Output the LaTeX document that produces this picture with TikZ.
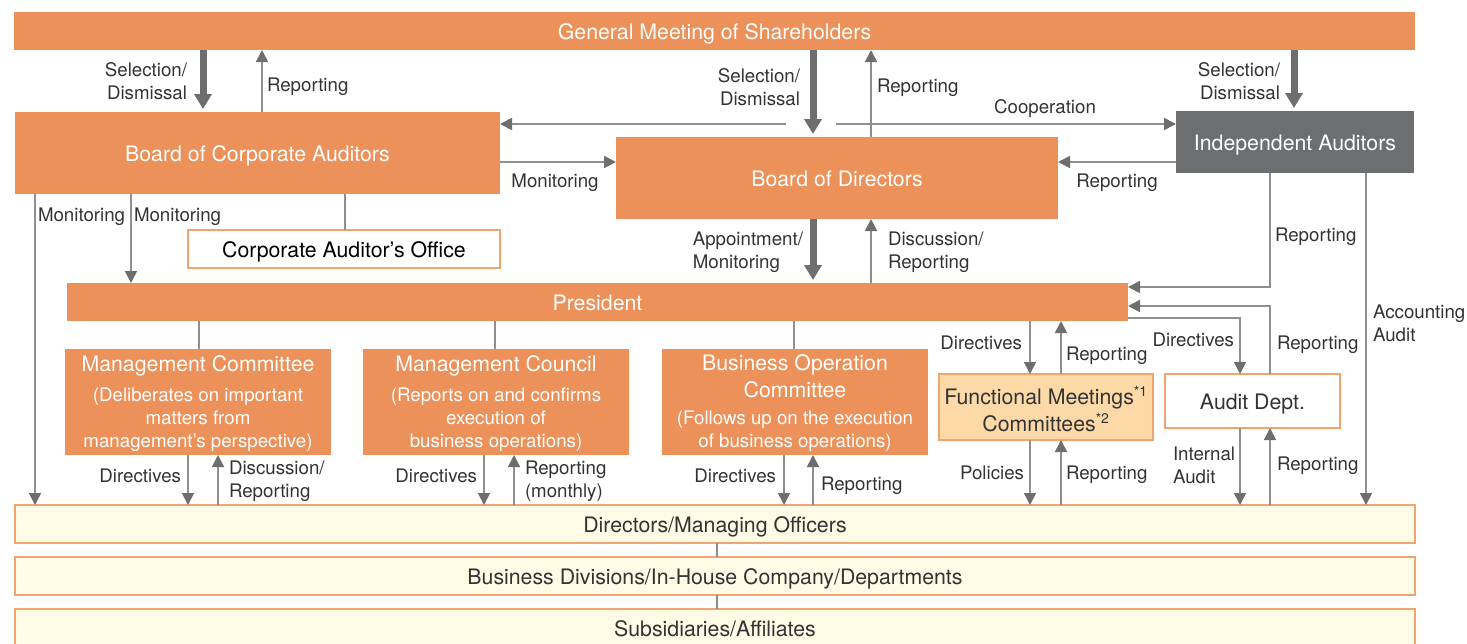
\documentclass[tikz,border=0pt]{standalone}
\usepackage{fontspec}
\setmainfont{TeX Gyre Heros}
\usetikzlibrary{arrows.meta}

\definecolor{corp}{HTML}{EB9159}
\definecolor{iagray}{HTML}{6D6E70}
\definecolor{wire}{HTML}{8F8F8F}
\definecolor{tipgray}{HTML}{6D6E70}
\definecolor{cream}{HTML}{FFFBE6}
\definecolor{paleorange}{HTML}{FDD9A8}
\definecolor{edge}{HTML}{F2A46E}
\definecolor{ink}{HTML}{333333}

\newcommand\bigtxt{\fontsize{21.3}{27}\selectfont}
\newcommand\smalltxt{\fontsize{18.7}{23}\selectfont}
\newcommand\supnum[1]{\textsuperscript{\fontsize{14}{14}\selectfont #1}}

\tikzset{
  every node/.style={inner sep=0pt, outer sep=0pt},
  oneline/.style={text height=16pt, text depth=0pt},
  orangebox/.style={fill=corp, text=white, font=\bigtxt, align=center},
  creambox/.style={fill=cream, draw=edge, line width=1.2pt, text=ink, font=\bigtxt, oneline},
  committee/.style={orangebox, font=\smalltxt, minimum width=266pt, minimum height=106pt,
                    text height=91pt, text depth=0pt},
  lbl/.style={text=ink, font=\smalltxt, align=left, text depth=0pt},
  lblr/.style={lbl, align=right},
  wireto/.style={draw=wire, line width=1.7pt, -{Triangle[length=12pt,width=12pt,color=tipgray]}},
  plainwire/.style={draw=wire, line width=1.7pt},
  heavyto/.style={draw=iagray, line width=7pt, shorten >=3pt, -{Triangle[length=15pt,width=17pt]}},
}

\begin{document}
\begin{tikzpicture}[x=1pt,y=-1pt]
\useasboundingbox (0,0) rectangle (1467,643);

% ---- boxes ----
\node[orangebox, oneline, minimum width=1401pt, minimum height=38pt] (gm) at (714.5,31) {General Meeting of Shareholders};
\node[orangebox, oneline, minimum width=485pt, minimum height=82pt] (bca) at (257.5,153) {Board of Corporate Auditors};
\node[orangebox, oneline, minimum width=442pt, minimum height=82pt] (bod) at (837,178) {Board of Directors};
\node[fill=iagray, text=white, font=\bigtxt, oneline, minimum width=238pt, minimum height=62pt] (ia) at (1295,142) {Independent Auditors};
\node[fill=white, draw=edge, line width=1.2pt, text=black, font=\bigtxt, oneline, minimum width=312pt, minimum height=38pt] (office) at (344,249) {Corporate Auditor’s Office};
\node[orangebox, oneline, minimum width=1061pt, minimum height=38pt] (pres) at (597.5,302) {President};

\node[committee] (mc) at (198,402)
  {{\bigtxt Management Committee}\\[7pt](Deliberates on important\\matters from\\management’s perspective)};
\node[committee] (mk) at (496,402)
  {{\bigtxt Management Council}\\[7pt](Reports on and confirms\\execution of\\business operations)};
\node[committee] (boc) at (795,402)
  {{\bigtxt Business Operation}\\[4pt]{\bigtxt Committee}\\[4pt](Follows up on the execution\\of business operations)};

\node[fill=paleorange, draw=edge, line width=1.2pt, text=ink, font=\bigtxt, align=center,
      text height=48pt, text depth=0pt, minimum width=214pt, minimum height=66pt] (fm) at (1046,407)
  {Functional Meetings\supnum{*1}\\Committees\supnum{*2}};
\node[fill=white, draw=edge, line width=1.2pt, text=ink, font=\bigtxt, oneline, minimum width=175pt, minimum height=54pt] (audit) at (1252.5,401) {Audit Dept.};

\node[creambox, minimum width=1400pt, minimum height=38pt] (dmo) at (715,524) {Directors/Managing Officers};
\node[creambox, minimum width=1400pt, minimum height=38pt] (bd) at (715,576) {Business Divisions/In-House Company/Departments};
\node[creambox, minimum width=1400pt, minimum height=38pt] (subs) at (715,628) {Subsidiaries/Affiliates};

% ---- connector columns and rows ----
\coordinate (cSelA) at (203,0);
\coordinate (cRepA) at (262,0);
\coordinate (cSelB) at (813,0);
\coordinate (cRepB) at (871,0);
\coordinate (cSelC) at (1294,0);
\coordinate (cMonL) at (35,0);
\coordinate (cMonP) at (131,0);
\coordinate (cOff) at (345,0);
\coordinate (cIArep) at (1270,0);
\coordinate (cAcc) at (1366,0);
\coordinate (cDirA) at (1240,0);
\coordinate (cFMd) at (1030,0);
\coordinate (cFMu) at (1061,0);
\coordinate (cMCd) at (188,0);
\coordinate (cMCu) at (218,0);
\coordinate (cMKd) at (484,0);
\coordinate (cMKu) at (514,0);
\coordinate (cBOd) at (784,0);
\coordinate (cBOu) at (813,0);
\coordinate (cMCl) at (199,0);
\coordinate (cMKl) at (495,0);
\coordinate (cBOl) at (794,0);
\coordinate (cStack) at (717,0);
\coordinate (rMon) at (0,162);
\coordinate (rIArep) at (0,287);
\coordinate (rAudRep) at (0,306);
\coordinate (rAudDir) at (0,318);
\coordinate (coopL) at (786,124);
\coordinate (coopR) at (836,124);

% ---- top level ----
\draw[heavyto] (gm.south -| cSelA) -- (bca.north -| cSelA);
\draw[wireto] (bca.north -| cRepA) -- (gm.south -| cRepA);
\draw[wireto] (coopL) -- (coopL -| bca.east);
\draw[wireto] (coopR) -- (coopR -| ia.west);
\draw[heavyto] (gm.south -| cSelB) -- (bod.north -| cSelB);
\draw[wireto] (bod.north -| cRepB) -- (gm.south -| cRepB);
\draw[heavyto] (gm.south -| cSelC) -- (ia.north -| cSelC);
\draw[wireto] (bca.east |- rMon) -- (bod.west |- rMon);
\draw[wireto] (ia.west |- rMon) -- (bod.east |- rMon);

% ---- board of corporate auditors ----
\draw[wireto] (bca.south -| cMonL) -- (dmo.north -| cMonL);
\draw[wireto] (bca.south -| cMonP) -- (pres.north -| cMonP);
\draw[plainwire] (bca.south -| cOff) -- (office.north -| cOff);

% ---- board of directors / president ----
\draw[heavyto] (bod.south -| cSelB) -- (pres.north -| cSelB);
\draw[wireto] (pres.north -| cRepB) -- (bod.south -| cRepB);

% ---- independent auditors ----
\draw[wireto] (ia.south -| cIArep) |- (pres.east |- rIArep);
\draw[wireto] (ia.south -| cAcc) -- (dmo.north -| cAcc);

% ---- audit dept ----
\draw[wireto] (audit.north -| cIArep) |- (pres.east |- rAudRep);
\draw[wireto] (pres.east |- rAudDir) -| (audit.north -| cDirA);
\draw[wireto] (audit.south -| cDirA) -- (dmo.north -| cDirA);
\draw[wireto] (dmo.north -| cIArep) -- (audit.south -| cIArep);

% ---- functional meetings ----
\draw[wireto] (pres.south -| cFMd) -- (fm.north -| cFMd);
\draw[wireto] (fm.north -| cFMu) -- (pres.south -| cFMu);
\draw[wireto] (fm.south -| cFMd) -- (dmo.north -| cFMd);
\draw[wireto] (dmo.north -| cFMu) -- (fm.south -| cFMu);

% ---- committees ----
\draw[plainwire] (pres.south -| cMCl) -- (mc.north -| cMCl);
\draw[plainwire] (pres.south -| cMKl) -- (mk.north -| cMKl);
\draw[plainwire] (pres.south -| cBOl) -- (boc.north -| cBOl);
\draw[wireto] (mc.south -| cMCd) -- (dmo.north -| cMCd);
\draw[wireto] (dmo.north -| cMCu) -- (mc.south -| cMCu);
\draw[wireto] (mk.south -| cMKd) -- (dmo.north -| cMKd);
\draw[wireto] (dmo.north -| cMKu) -- (mk.south -| cMKu);
\draw[wireto] (boc.south -| cBOd) -- (dmo.north -| cBOd);
\draw[wireto] (dmo.north -| cBOu) -- (boc.south -| cBOu);

% ---- lower stack ----
\draw[plainwire] (dmo.south -| cStack) -- (bd.north -| cStack);
\draw[plainwire] (bd.south -| cStack) -- (subs.north -| cStack);

% ---- labels ----
\node[lblr, anchor=east] (l1) at (187,81) {Selection/\\Dismissal};
\node[lbl, anchor=west] (l2) at (267,85) {Reporting};
\node[lblr, anchor=east] (l3) at (800,87) {Selection/\\Dismissal};
\node[lbl, anchor=west] (l4) at (877,86) {Reporting};
\node[lblr, anchor=east] (l3b) at (1280,81) {Selection/\\Dismissal};
\node[lbl] (l5) at (1045,107) {Cooperation};
\node[lbl] (l6) at (555,181) {Monitoring};
\node[lbl] (l7) at (1117,181) {Reporting};
\node[lbl, anchor=east] (l8) at (803,250) {Appointment/\\Monitoring};
\node[lbl, anchor=west] (l9) at (888,250) {Discussion/\\Reporting};
\node[lbl, anchor=west] (l10) at (38,215) {Monitoring};
\node[lbl, anchor=west] (l11) at (134,215) {Monitoring};
\node[lbl, anchor=west] (l12) at (1275,235) {Reporting};
\node[lbl, anchor=west] (l13) at (1373,323) {Accounting\\Audit};
\node[lbl, anchor=west] (l14) at (1277,343) {Reporting};
\node[lbl, anchor=east] (l15) at (1234,340) {Directives};
\node[lbl, anchor=east] (l16) at (1022,343) {Directives};
\node[lbl, anchor=west] (l17) at (1066,354) {Reporting};
\node[lbl, anchor=east] (l18) at (1024,473) {Policies};
\node[lbl, anchor=west] (l19) at (1066,473) {Reporting};
\node[lbl, anchor=west] (l20) at (1173,465) {Internal\\Audit};
\node[lbl, anchor=west] (l21) at (1277,464) {Reporting};
\node[lbl, anchor=east] (l22) at (181,476) {Directives};
\node[lbl, anchor=west] (l23) at (229,479) {Discussion/\\Reporting};
\node[lbl, anchor=east] (l24) at (477,476) {Directives};
\node[lbl, anchor=west] (l25) at (525,479) {Reporting\\(monthly)};
\node[lbl, anchor=east] (l26) at (776,476) {Directives};
\node[lbl, anchor=west] (l27) at (821,484) {Reporting};
\end{tikzpicture}
\end{document}
